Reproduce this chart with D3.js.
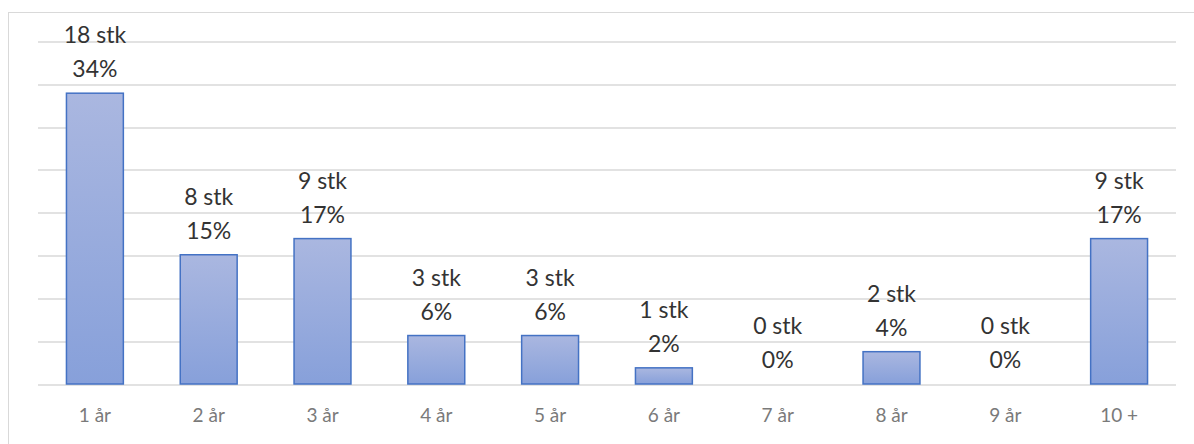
<!DOCTYPE html>
<html>
<head>
<meta charset="utf-8">
<script src="https://cdn.jsdelivr.net/npm/d3@7"></script>
<style>
  body { margin: 0; background: #fff; }
  text { font-family: Lato, "Open Sans", sans-serif; }
</style>
</head>
<body>
<script>
// Chart data
var categories = ["1 år", "2 år", "3 år", "4 år", "5 år", "6 år", "7 år", "8 år", "9 år", "10 +"];
var counts = [18, 8, 9, 3, 3, 1, 0, 2, 0, 9];
var yTicks = [0, 5, 10, 15, 20, 25, 30, 35, 40];

var total = d3.sum(counts);
var data = categories.map(function (c, i) {
  return { cat: c, n: counts[i], pct: counts[i] / total * 100 };
});

var svgWidth = 1194;
var svgHeight = 444;

var chartMargin = { top: 41.5, right: 18, bottom: 60, left: 38 };
var chartWidth = svgWidth - chartMargin.left - chartMargin.right;
var chartHeight = 384 - chartMargin.top;

var svg = d3.select("body")
  .append("svg")
  .attr("width", svgWidth)
  .attr("height", svgHeight);

// outer frame
svg.append("rect")
  .attr("x", 8.5)
  .attr("y", 12.5)
  .attr("width", 1200)
  .attr("height", 500)
  .attr("fill", "none")
  .attr("stroke", "#d9d9d9")
  .attr("stroke-width", 1);

var defs = svg.append("defs");
var grad = defs.append("linearGradient")
  .attr("id", "barGrad")
  .attr("x1", 0).attr("y1", 0).attr("x2", 0).attr("y2", 1);
grad.append("stop").attr("offset", "0%").attr("stop-color", "#aab7e0");
grad.append("stop").attr("offset", "100%").attr("stop-color", "#87a0da");

var chartGroup = svg.append("g")
  .attr("transform", `translate(${chartMargin.left}, ${chartMargin.top})`);

var xBand = d3.scaleBand()
  .domain(categories)
  .range([0, chartWidth])
  .paddingInner(0.5)
  .paddingOuter(0.25);

var yLinearScale = d3.scaleLinear()
  .domain([0, 40])
  .range([chartHeight, 0]);

// gridlines
chartGroup.selectAll(".grid")
  .data(yTicks)
  .enter()
  .append("line")
  .attr("class", "grid")
  .attr("x1", 0)
  .attr("x2", chartWidth)
  .attr("y1", d => Math.round(yLinearScale(d)) + 0.5)
  .attr("y2", d => Math.round(yLinearScale(d)) + 0.5)
  .attr("stroke", "#d9d9d9")
  .attr("stroke-width", 1.3);

// bars
chartGroup.selectAll(".bar")
  .data(data.filter(d => d.n > 0))
  .enter()
  .append("rect")
  .attr("class", "bar")
  .attr("x", d => xBand(d.cat))
  .attr("y", d => yLinearScale(d.pct))
  .attr("width", xBand.bandwidth())
  .attr("height", d => chartHeight - yLinearScale(d.pct))
  .attr("fill", "url(#barGrad)")
  .attr("stroke", "#4472c4")
  .attr("stroke-width", 1.5);

// x axis labels
var bottomAxis = d3.axisBottom(xBand).tickSize(0).tickPadding(0);
var xAxisG = chartGroup.append("g")
  .attr("transform", `translate(0, ${chartHeight})`)
  .call(bottomAxis);
xAxisG.select(".domain").remove();
xAxisG.selectAll("text")
  .attr("dy", null)
  .attr("y", 38)
  .style("font-size", "19px")
  .style("fill", "#7a7a7a")
  .style("font-family", "Lato, 'Open Sans', sans-serif");

// data labels
var labels = chartGroup.selectAll(".marker")
  .data(data)
  .enter()
  .append("g")
  .attr("class", "marker")
  .attr("transform", d => `translate(${xBand(d.cat) + xBand.bandwidth() / 2}, ${yLinearScale(d.pct)})`);

labels.append("text")
  .attr("text-anchor", "middle")
  .attr("y", -50)
  .attr("font-size", 23)
  .attr("fill", "#333333")
  .text(d => d.n + " stk");

labels.append("text")
  .attr("text-anchor", "middle")
  .attr("y", -16)
  .attr("font-size", 23)
  .attr("fill", "#333333")
  .text(d => Math.round(d.pct) + "%");
</script>
</body>
</html>
